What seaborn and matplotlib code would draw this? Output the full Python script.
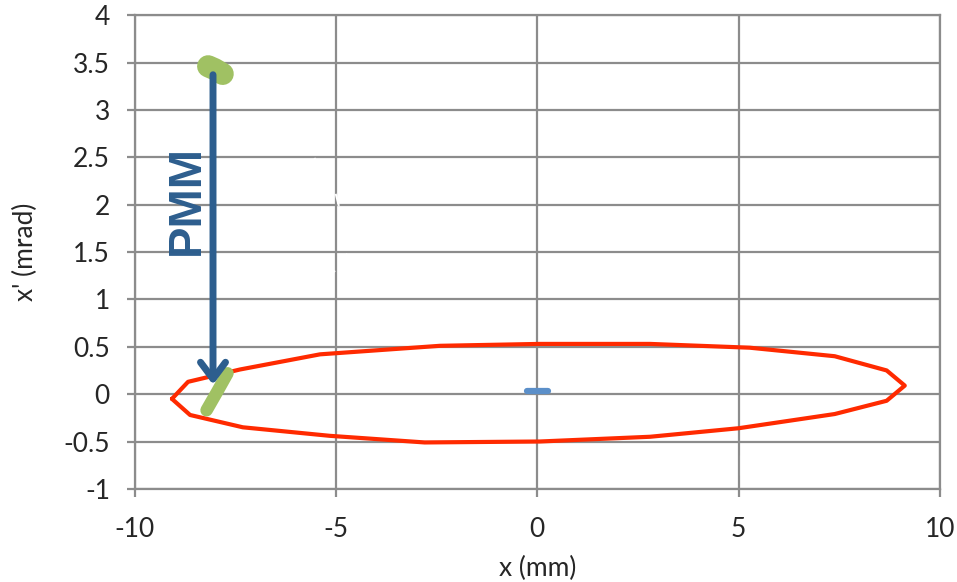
import numpy as np
import pandas as pd
import matplotlib.pyplot as plt
import seaborn as sns

# acceptance ellipse (red)
acc_x = [-9.08, -8.68, -7.39, -5.40, -2.42, 0.06, 2.80, 5.28, 7.39, 8.68, 9.13,
         8.68, 7.39, 5.00, 2.80, 0.06, -2.80, -5.16, -7.32, -8.63, -9.08]
acc_y = [-0.05, 0.13, 0.26, 0.42, 0.51, 0.53, 0.53, 0.49, 0.40, 0.25, 0.09,
         -0.07, -0.21, -0.36, -0.45, -0.50, -0.51, -0.44, -0.35, -0.22, -0.05]

# beam before PMM (green, top), after PMM (green, bottom), reference beam (blue)
before_x = [-8.18, -8.02, -7.82]
before_y = [3.46, 3.43, 3.38]
after_x = [-8.22, -7.95, -7.70]
after_y = [-0.17, 0.03, 0.22]
ref_x = [-0.25, 0.0, 0.27]
ref_y = [0.03, 0.03, 0.03]

# faint white series (only shows over gridlines)
white_x = [-6.59, -5.60, -4.96, -4.66, -5.0, -5.58]
white_y = [0.54, 1.02, 1.34, 1.52, 2.1, 2.52]
white2_x = [5.03, 5.03]
white2_y = [-0.64, -0.85]

acc = pd.DataFrame({"x": acc_x, "y": acc_y})

sns.set_style("white")
plt.rcParams['font.family'] = ['Lato', 'DejaVu Sans']
plt.rcParams['axes.unicode_minus'] = False

fig = plt.figure(figsize=(9.57, 5.82), dpi=100)
ax = fig.add_axes([0.141, 0.160, 0.841, 0.814])

grid_c = "#8c8c8c"
ax.set_xlim(-10, 10)
ax.set_ylim(-1, 4)
ax.set_xticks(np.arange(-10, 11, 5))
ax.set_yticks(np.arange(-1, 4.01, 0.5))
ax.set_yticklabels(["-1", "-0.5", "0", "0.5", "1", "1.5", "2", "2.5", "3", "3.5", "4"])
ax.grid(True, color=grid_c, lw=1.6)
for s in ax.spines.values():
    s.set_color(grid_c)
    s.set_linewidth(1.6)
ax.tick_params(axis="both", direction="out", length=6, width=1.6, color=grid_c,
               labelsize=19, left=True, bottom=True)
ax.tick_params(axis="y", pad=12)
ax.tick_params(axis="x", pad=14)

sns.lineplot(x=white_x, y=white_y, sort=False, color="white", lw=1.5,
             linestyle=(0, (6, 4)), ax=ax)
sns.lineplot(x=white2_x, y=white2_y, sort=False, color="white", lw=1.5, ax=ax)

sns.lineplot(data=acc, x="x", y="y", sort=False, color="#ff2a00", lw=3.0,
             estimator=None, ax=ax)

sns.lineplot(x=ref_x, y=ref_y, sort=False, color="#5b8fc9", lw=4.5,
             solid_capstyle="round", ax=ax)

sns.lineplot(x=before_x, y=before_y, sort=False, color="#a0c163", lw=16,
             solid_capstyle="round", ax=ax)
sns.lineplot(x=after_x, y=after_y, sort=False, color="#a0c163", lw=9,
             solid_capstyle="round", ax=ax)

ax.annotate("", xy=(-8.06, 0.07), xytext=(-8.06, 3.40),
            arrowprops=dict(arrowstyle="->,head_length=1.2,head_width=0.9",
                            color="#2d5e8e", lw=5))
ax.text(-8.72, 2.05, "PMM", rotation=90, ha="center", va="center",
        fontsize=34, fontweight="bold", color="#2d5e8e",
        family=["Liberation Sans", "DejaVu Sans"])

ax.set_xlabel("x (mm)", fontsize=19, labelpad=10)
ax.set_ylabel("x' (mrad)", fontsize=19, labelpad=18)

fig.savefig("out.png", dpi=100)
